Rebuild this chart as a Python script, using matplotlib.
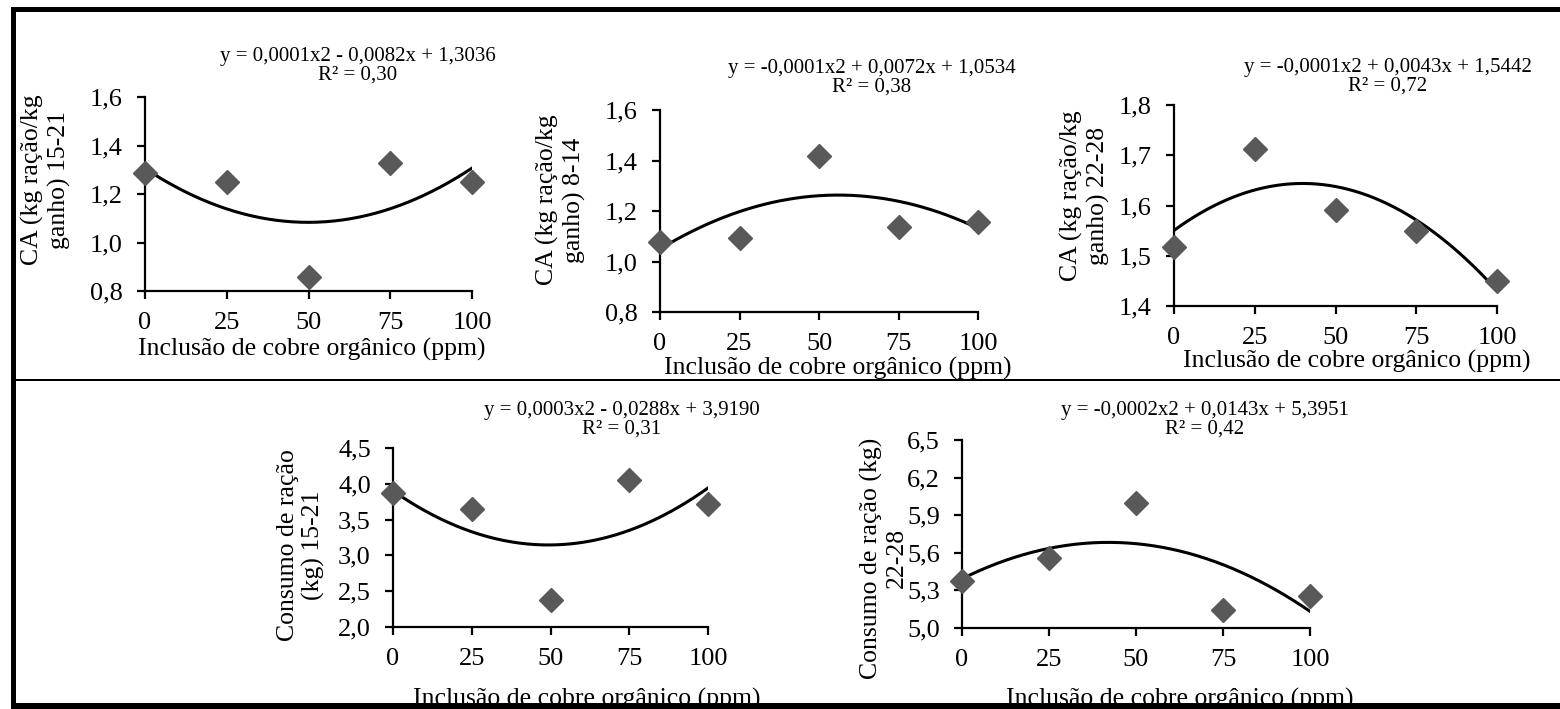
import numpy as np
import matplotlib.pyplot as plt
from matplotlib.patches import Rectangle

plt.rcParams['font.family'] = ['Liberation Serif', 'DejaVu Serif']

W, H = 1560, 709

# copper inclusion levels (ppm)
doses = [0, 25, 50, 75, 100]

# values
ca_15_21 = [1.287, 1.250, 0.858, 1.328, 1.250]
ca_8_14 = [1.076, 1.093, 1.416, 1.136, 1.157]
ca_22_28 = [1.517, 1.713, 1.592, 1.550, 1.449]
cr_15_21 = [3.869, 3.650, 2.383, 4.047, 3.720]
cr_22_28 = [5.377, 5.557, 6.001, 5.146, 5.258]

yt_ca_15_21 = [0.8, 1.0, 1.2, 1.4, 1.6]
yt_ca_8_14 = [0.8, 1.0, 1.2, 1.4, 1.6]
yt_ca_22_28 = [1.4, 1.5, 1.6, 1.7, 1.8]
yt_cr_15_21 = [2.0, 2.5, 3.0, 3.5, 4.0, 4.5]
yt_cr_22_28 = [5.0, 5.3, 5.6, 5.9, 6.2, 6.5]

eqs = ["y = 0,0001x2 - 0,0082x + 1,3036\nR² = 0,30",
       "y = -0,0001x2 + 0,0072x + 1,0534\nR² = 0,38",
       "y = -0,0001x2 + 0,0043x + 1,5442\nR² = 0,72",
       "y = 0,0003x2 - 0,0288x + 3,9190\nR² = 0,31",
       "y = -0,0002x2 + 0,0143x + 5,3951\nR² = 0,42"]
ylabels = ["CA (kg ração/kg\nganho) 15-21",
           "CA (kg ração/kg\nganho) 8-14",
           "CA (kg ração/kg\nganho) 22-28",
           "Consumo de ração\n(kg) 15-21",
           "Consumo de ração (kg)\n22-28"]
xlabel = "Inclusão de cobre orgânico (ppm)"

# panel layout in pixels: axes left, top, right, bottom ; ylabel, eq and xlabel centres
panels = [
    dict(y=ca_15_21, yt=yt_ca_15_21, box=(145, 97, 472, 291), yl=(46, 180), eq=(358, 66), xl=(312, 349)),
    dict(y=ca_8_14, yt=yt_ca_8_14, box=(660, 110, 978, 312), yl=(561, 200), eq=(872, 78), xl=(838, 368)),
    dict(y=ca_22_28, yt=yt_ca_22_28, box=(1174, 105, 1497, 306), yl=(1085, 196), eq=(1388, 77), xl=(1357, 361)),
    dict(y=cr_15_21, yt=yt_cr_15_21, box=(393, 448, 708, 627), yl=(301, 545), eq=(622, 420), xl=(587, 699)),
    dict(y=cr_22_28, yt=yt_cr_22_28, box=(962, 440, 1310, 628), yl=(884, 558), eq=(1205, 420), xl=(1180, 699)),
]

fig = plt.figure(figsize=(W / 100, H / 100), dpi=100)


def fx(x):
    return x / W


def fy(y):
    return 1 - y / H


def comma(v):
    return f"{v:.1f}".replace('.', ',')


xs = np.linspace(0, 100, 200)
for i, p in enumerate(panels):
    l, t, r, b = p['box']
    ax = fig.add_axes([fx(l), fy(b), (r - l) / W, (b - t) / H])
    coef = np.polyfit(doses, p['y'], 2)
    ax.plot(xs, np.polyval(coef, xs), color='black', lw=2.2, zorder=2)
    ax.plot(doses, p['y'], ls='none', marker='D', ms=12.5, color='#595959',
            mec='#595959', clip_on=False, zorder=3)
    ax.set_xlim(0, 100)
    ax.set_ylim(p['yt'][0], p['yt'][-1])
    ax.set_xticks(doses)
    ax.set_xticklabels([str(d) for d in doses])
    ax.set_yticks(p['yt'])
    ax.set_yticklabels([comma(v) for v in p['yt']])
    for s in ['top', 'right']:
        ax.spines[s].set_visible(False)
    for s in ['left', 'bottom']:
        ax.spines[s].set_linewidth(1.6)
    ax.tick_params(direction='out', length=6, width=1.6, labelsize=19, pad=9)
    ax.tick_params(axis='y', pad=10)
    ax.patch.set_alpha(0)

    fig.text(fx(p['yl'][0]), fy(p['yl'][1]), ylabels[i], rotation=90,
             ha='center', va='center', fontsize=18.5, multialignment='center',
             linespacing=1.2)
    fig.text(fx(p['eq'][0]), fy(p['eq'][1]), eqs[i], ha='center', va='center',
             fontsize=15, multialignment='center', linespacing=0.95)
    fig.text(fx(p['xl'][0]), fy(p['xl'][1]), xlabel, ha='center', va='center',
             fontsize=18.5)

# frame lines of the original figure
frame = [(11, 7, W - 11, 5), (11, 7, 5, H - 7), (11, 703, W - 11, 6), (16, 379, W - 16, 2)]
for x0, y0, w, h in frame:
    fig.patches.append(Rectangle((fx(x0), fy(y0 + h)), w / W, h / H,
                                 transform=fig.transFigure, facecolor='black',
                                 edgecolor='none', zorder=10))

fig.savefig('out.png', dpi=100)
